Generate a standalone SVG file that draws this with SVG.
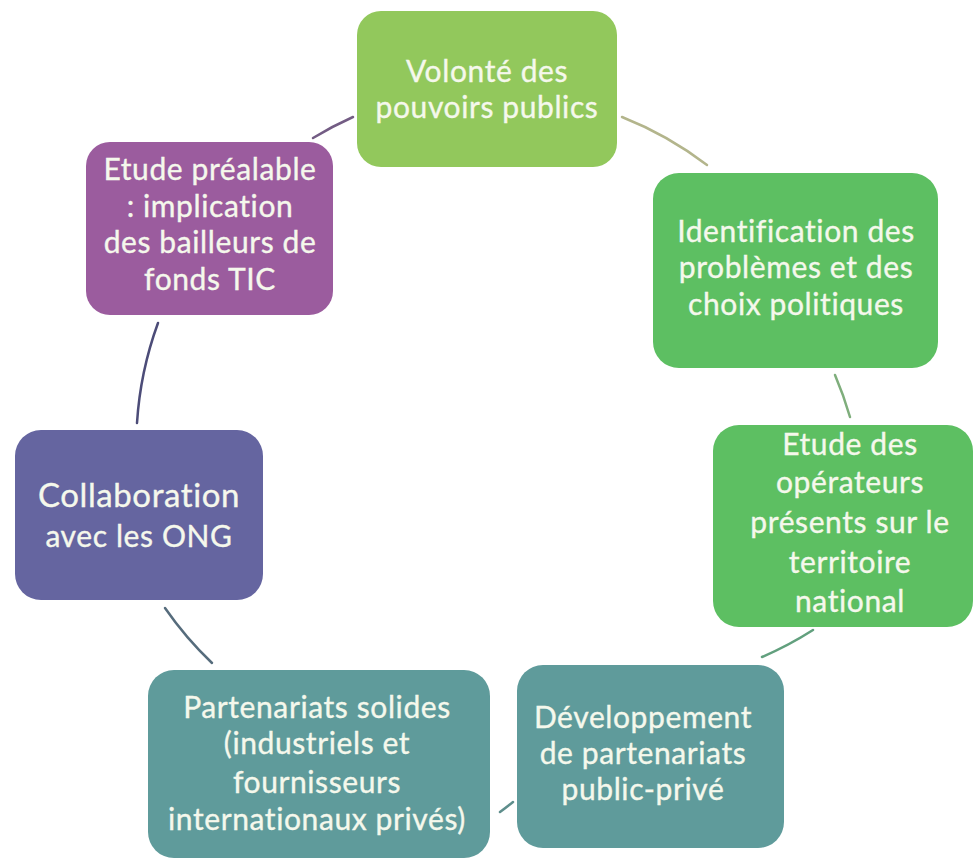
<svg xmlns="http://www.w3.org/2000/svg" width="976" height="861" viewBox="0 0 976 861">
<style>
.t{font-family:Lato,"Open Sans","Liberation Sans",sans-serif;font-size:30px;letter-spacing:0.6px;fill:#f5f8ec;text-anchor:middle;stroke:#f5f8ec;stroke-width:0.35}
.c{fill:none;stroke-width:2.5;stroke-linecap:round}
</style>
<rect width="976" height="861" fill="#ffffff"/>
<g id="connectors">
<path class="c" stroke="#b3b58c" d="M622,117 A356,356 0 0 1 707,165"/>
<path class="c" stroke="#7fae7c" d="M835,375 A356,356 0 0 1 850,417"/>
<path class="c" stroke="#62a07e" d="M813,630 A356,356 0 0 1 762,657"/>
<path class="c" stroke="#5e8e8c" d="M513,802 A356,356 0 0 1 500,812"/>
<path class="c" stroke="#566c7c" d="M212,663 A356,356 0 0 1 165,608"/>
<path class="c" stroke="#4c4c78" d="M137,423 A356,356 0 0 1 158,323"/>
<path class="c" stroke="#735c84" d="M313,138 A356,356 0 0 1 353,117"/>
</g>
<g id="n1">
<rect x="357" y="11" width="260" height="156" rx="24" fill="#92c85c"/>
<text class="t" x="487" y="82">Volonté des</text>
<text class="t" x="487" y="118">pouvoirs publics</text>
</g>
<g id="n2">
<rect x="653" y="173" width="285" height="195" rx="26" fill="#5dbf62"/>
<text class="t" x="796" y="242">Identification des</text>
<text class="t" x="796" y="278">problèmes et des</text>
<text class="t" x="796" y="315">choix politiques</text>
</g>
<g id="n3">
<rect x="713" y="425" width="260" height="202" rx="26" fill="#5dbf62"/>
<text class="t" x="850" y="455">Etude des</text>
<text class="t" x="850" y="493">opérateurs</text>
<text class="t" x="850" y="533">présents sur le</text>
<text class="t" x="850" y="573">territoire</text>
<text class="t" x="850" y="612">national</text>
</g>
<g id="n4">
<rect x="517" y="665" width="267" height="183" rx="26" fill="#5f9b9b"/>
<text class="t" x="643" y="728">Développement</text>
<text class="t" x="643" y="764">de partenariats</text>
<text class="t" x="643" y="800">public-privé</text>
</g>
<g id="n5">
<rect x="148" y="670" width="342" height="188" rx="26" fill="#5f9b9b"/>
<text class="t" x="317" y="718">Partenariats solides</text>
<text class="t" x="317" y="754">(industriels et</text>
<text class="t" x="317" y="793">fournisseurs</text>
<text class="t" x="317" y="830">internationaux privés)</text>
</g>
<g id="n6">
<rect x="15" y="430" width="248" height="170" rx="26" fill="#6565a0"/>
<text class="t" x="139" y="507" style="font-size:33px">Collaboration</text>
<text class="t" x="139" y="547">avec les ONG</text>
</g>
<g id="n7">
<rect x="86" y="142" width="247" height="173" rx="24" fill="#9b5c9e"/>
<text class="t" x="210" y="180">Etude préalable</text>
<text class="t" x="210" y="217">: implication</text>
<text class="t" x="210" y="253">des bailleurs de</text>
<text class="t" x="210" y="290">fonds TIC</text>
</g>
</svg>
